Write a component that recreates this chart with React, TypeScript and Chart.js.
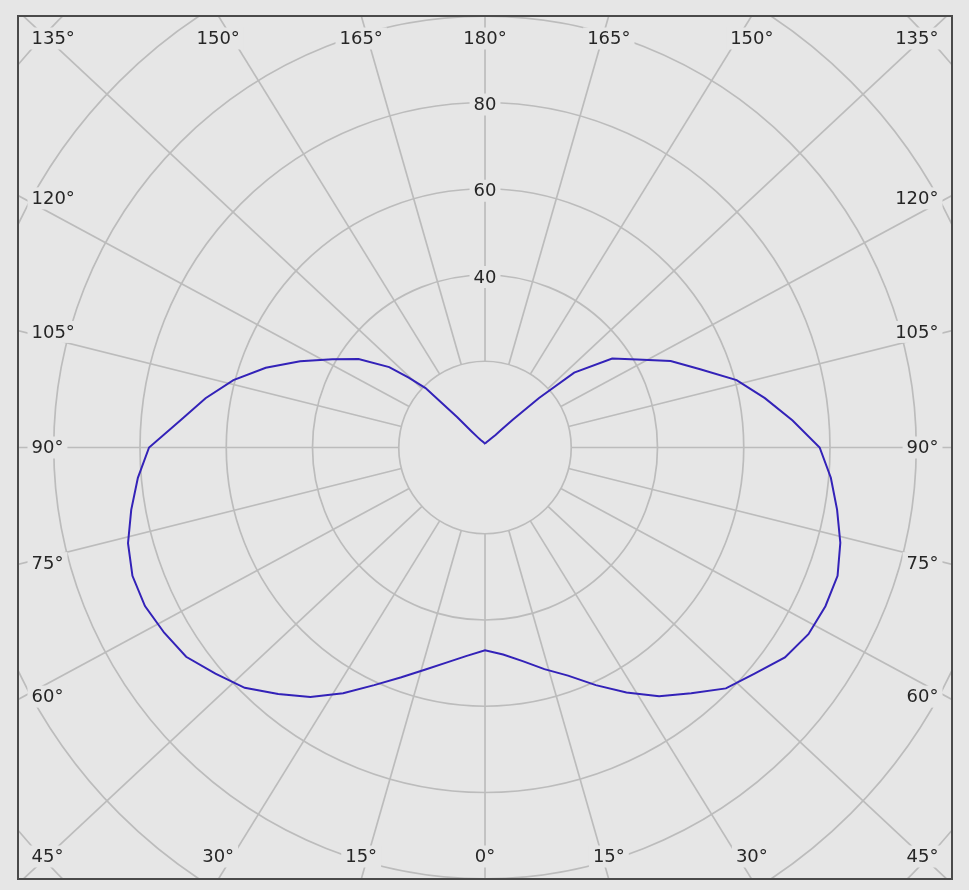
import React, { useEffect, useRef } from "react";
import { Chart, registerables } from "chart.js";

Chart.register(...registerables);

// ---- Data (luminous intensity, polar, 0° = downward) ----
const ANGLES = [0, 5, 10, 15, 20, 25, 30, 35, 40, 45, 50, 55, 60, 65, 70, 75, 80, 85, 90, 95, 100, 105, 110, 115, 120, 125, 130, 132.5, 135, 137.5, 140, 145, 150, 160, 170, 180];
const RIGHT_VALUES = [47.0, 48.2, 50.3, 53.2, 56.3, 60.8, 65.6, 70.4, 74.4, 79.0, 81.6, 84.9, 86.6, 87.1, 87.0, 85.3, 82.9, 80.5, 77.6, 71.6, 65.9, 60.4, 53.1, 47.5, 40.8, 36.0, 27.0, 17.0, 9.0, 5.5, 3.8, 2.6, 2.0, 1.4, 1.1, 1.0];
const LEFT_VALUES = [47.0, 48.5, 50.6, 53.3, 56.7, 60.8, 65.8, 70.6, 74.6, 78.8, 81.6, 84.6, 85.9, 87.0, 87.0, 85.7, 83.3, 80.8, 77.9, 71.0, 65.8, 60.4, 54.1, 47.3, 40.9, 35.8, 29.0, 24.0, 19.5, 9.5, 5.0, 2.8, 2.0, 1.4, 1.1, 1.0];

const RING_VALUES = [20, 40, 60, 80, 100, 120, 140];
const RING_LABELS = [40, 60, 80];
const SPOKE_ANGLES = [0, 15, 30, 45, 60, 75, 90, 105, 120, 135, 150, 165, 180];

// ---- Layout / style ----
const W = 969;
const H = 890;
const PAD = { left: 18, right: 17, top: 16, bottom: 11 };
const PX_PER_UNIT = 4.3125;
const X_HALF = (W - PAD.left - PAD.right) / 2 / PX_PER_UNIT;
const Y_HALF = (H - PAD.top - PAD.bottom) / 2 / PX_PER_UNIT;
const SPOKE_STRETCH = 1.07;
const LABEL_STRETCH = 1.13;
const ROW_INSET = 22.5;
const COL_INSET = 13.5;
const BG = "#e6e6e6";
const GRID = "#bcbcbc";
const TEXT = "#262626";
const FRAME = "#4a4a4a";
const CURVE = "#3322b8";
const FONT = "18px 'DejaVu Sans', Verdana, sans-serif";

function toXY(angle: number, value: number, side: number) {
  const r = (angle * Math.PI) / 180;
  return { x: side * value * Math.sin(r), y: -value * Math.cos(r) };
}

const polarGrid = {
  id: "polarGrid",
  beforeDraw(chart: any) {
    const { ctx, width, height } = chart;
    ctx.save();
    ctx.fillStyle = BG;
    ctx.fillRect(0, 0, width, height);
    ctx.restore();
  },
  beforeDatasetsDraw(chart: any) {
    const { ctx, chartArea: ca, scales } = chart;
    const xs = scales.x;
    const ys = scales.y;
    const cx = xs.getPixelForValue(0);
    const cy = ys.getPixelForValue(0);
    const ppu = xs.getPixelForValue(1) - cx;
    ctx.save();
    ctx.beginPath();
    ctx.rect(ca.left, ca.top, ca.right - ca.left, ca.bottom - ca.top);
    ctx.clip();
    ctx.strokeStyle = GRID;
    ctx.lineWidth = 1.7;
    RING_VALUES.forEach((v) => {
      ctx.beginPath();
      ctx.arc(cx, cy, v * ppu, 0, Math.PI * 2);
      ctx.stroke();
    });
    const r0 = RING_VALUES[0] * ppu;
    SPOKE_ANGLES.forEach((a) => {
      [-1, 1].forEach((s) => {
        if ((a === 0 || a === 180) && s === -1) return;
        const rad = (a * Math.PI) / 180;
        let dx = s * SPOKE_STRETCH * Math.sin(rad);
        let dy = Math.cos(rad);
        const n = Math.hypot(dx, dy);
        dx /= n;
        dy /= n;
        ctx.beginPath();
        ctx.moveTo(cx + dx * r0, cy + dy * r0);
        ctx.lineTo(cx + dx * 2000, cy + dy * 2000);
        ctx.stroke();
      });
    });

    ctx.font = FONT;
    ctx.textBaseline = "middle";
    const drawLabel = (text: string, x: number, y: number, align: string) => {
      ctx.textAlign = align;
      const w = ctx.measureText(text).width;
      const left = align === "left" ? x : align === "right" ? x - w : x - w / 2;
      ctx.fillStyle = BG;
      ctx.fillRect(left - 4, y - 11, w + 8, 22);
      ctx.fillStyle = TEXT;
      ctx.fillText(text, x, y + 1);
    };
    RING_LABELS.forEach((v) => drawLabel(String(v), cx, cy - v * ppu + 2, "center"));

    const topY = ca.top + ROW_INSET;
    const botY = ca.bottom - ROW_INSET;
    const leftX = ca.left + COL_INSET;
    const rightX = ca.right - COL_INSET;
    const colDist = cx - (leftX + 22);
    SPOKE_ANGLES.forEach((a) => {
      [-1, 1].forEach((s) => {
        if ((a === 0 || a === 180) && s === -1) return;
        const text = a + "°";
        const rad = (a * Math.PI) / 180;
        const sn = Math.sin(rad);
        const cs = Math.cos(rad);
        const w = ctx.measureText(text).width;
        if (a <= 45 || a >= 135) {
          const y = cs > 0 ? botY : topY;
          const x = cx + s * LABEL_STRETCH * Math.abs(y - cy) * (sn / Math.abs(cs));
          if (x - w / 2 < leftX) drawLabel(text, leftX, y, "left");
          else if (x + w / 2 > rightX) drawLabel(text, rightX, y, "right");
          else drawLabel(text, x, y, "center");
        } else {
          const y = cy + colDist * (cs / sn);
          if (s < 0) drawLabel(text, leftX, y, "left");
          else drawLabel(text, rightX, y, "right");
        }
      });
    });
    ctx.restore();
  },
  afterDraw(chart: any) {
    const { ctx, chartArea: ca } = chart;
    ctx.save();
    ctx.strokeStyle = FRAME;
    ctx.lineWidth = 2;
    ctx.strokeRect(ca.left, ca.top, ca.right - ca.left, ca.bottom - ca.top);
    ctx.restore();
  },
};

export default function App() {
  const ref = useRef<HTMLCanvasElement | null>(null);
  useEffect(() => {
    if (!ref.current) return;
    const pts: { x: number; y: number }[] = [];
    for (let i = ANGLES.length - 1; i >= 0; i--) pts.push(toXY(ANGLES[i], LEFT_VALUES[i], -1));
    for (let i = 0; i < ANGLES.length; i++) pts.push(toXY(ANGLES[i], RIGHT_VALUES[i], 1));
    const chart = new Chart(ref.current, {
      type: "scatter",
      data: {
        datasets: [
          {
            data: pts,
            showLine: true,
            borderColor: CURVE,
            borderWidth: 2,
            pointRadius: 0,
            tension: 0,
            fill: false,
          },
        ],
      },
      options: {
        responsive: false,
        animation: false,
        devicePixelRatio: 1,
        layout: { padding: PAD },
        plugins: { legend: { display: false }, tooltip: { enabled: false } },
        scales: {
          x: { type: "linear", display: false, min: -X_HALF, max: X_HALF },
          y: { type: "linear", display: false, min: -Y_HALF, max: Y_HALF },
        },
      },
      plugins: [polarGrid],
    } as any);
    return () => chart.destroy();
  }, []);
  return (
    <div style={{ position: "absolute", left: 0, top: 0, width: W, height: H, background: BG }}>
      <canvas ref={ref} width={W} height={H} style={{ display: "block" }} />
    </div>
  );
}
